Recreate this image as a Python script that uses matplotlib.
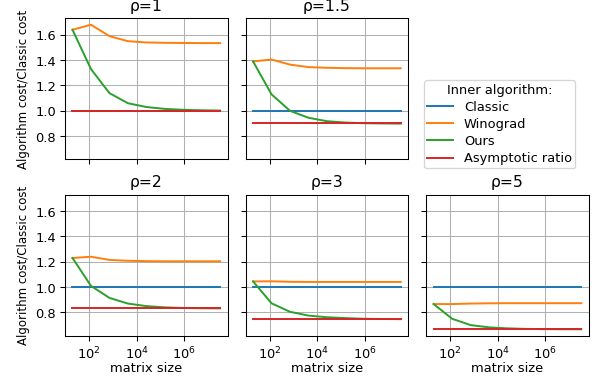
import matplotlib
matplotlib.use("Agg")
import matplotlib.pyplot as plt
from matplotlib.ticker import MultipleLocator, NullLocator

sizes = [20, 120, 720, 4320, 25920, 155520, 933120, 5598720, 33592320]
rhos = ["1", "1.5", "2", "3", "5"]

classic = [1.0] * 9
winograd = {
    "1":   [1.64, 1.68, 1.59, 1.55, 1.54, 1.537, 1.536, 1.535, 1.535],
    "1.5": [1.39, 1.405, 1.365, 1.345, 1.34, 1.337, 1.336, 1.336, 1.336],
    "2":   [1.23, 1.24, 1.215, 1.208, 1.205, 1.204, 1.204, 1.204, 1.204],
    "3":   [1.045, 1.046, 1.042, 1.041, 1.041, 1.041, 1.041, 1.041, 1.041],
    "5":   [0.866, 0.866, 0.87, 0.872, 0.873, 0.873, 0.873, 0.873, 0.873],
}
ours = {
    "1":   [1.64, 1.33, 1.14, 1.06, 1.03, 1.015, 1.008, 1.004, 1.002],
    "1.5": [1.39, 1.13, 1.0, 0.945, 0.918, 0.907, 0.902, 0.9, 0.899],
    "2":   [1.23, 1.01, 0.915, 0.87, 0.85, 0.84, 0.835, 0.833, 0.832],
    "3":   [1.045, 0.872, 0.805, 0.775, 0.762, 0.755, 0.75, 0.748, 0.747],
    "5":   [0.866, 0.75, 0.70, 0.682, 0.674, 0.67, 0.668, 0.667, 0.667],
}
asymptotic = {"1": 1.0, "1.5": 0.9, "2": 0.833, "3": 0.747, "5": 0.667}

DPI = 94
fig, axes = plt.subplots(2, 3, figsize=(597.4 / DPI, 377.4 / DPI), dpi=DPI,
                         sharex=True, sharey=True)
fig.subplots_adjust(left=0.109, right=0.9854, top=0.9504, bottom=0.1095,
                    hspace=0.25, wspace=0.112)

positions = [(0, 0), (0, 1), (1, 0), (1, 1), (1, 2)]
handles = None
for rho, (r, c) in zip(rhos, positions):
    ax = axes[r, c]
    h1, = ax.plot(sizes, classic, color="tab:blue", label="Classic")
    h2, = ax.plot(sizes, winograd[rho], color="tab:orange", label="Winograd")
    h3, = ax.plot(sizes, ours[rho], color="tab:green", label="Ours")
    h4, = ax.plot(sizes, [asymptotic[rho]] * len(sizes), color="tab:red", label="Asymptotic ratio")
    handles = [h1, h2, h3, h4]
    ax.set_xscale("log")
    ax.set_title("ρ=" + rho)
    ax.grid(True)
    ax.set_xticks([1e2, 1e4, 1e6])
    ax.xaxis.set_minor_locator(NullLocator())
    ax.yaxis.set_major_locator(MultipleLocator(0.2))
    if c == 0:
        ax.set_ylabel("Algorithm cost/Classic cost", fontsize=9)
    if r == 1:
        ax.set_xlabel("matrix size", labelpad=0.5)

axes[0, 2].axis("off")
fig.legend(handles=handles, title="Inner algorithm:", loc="center",
           bbox_to_anchor=(0.8364, 0.6698), labelspacing=0.32, borderpad=0.25)

fig.savefig("out.png", dpi=DPI)
